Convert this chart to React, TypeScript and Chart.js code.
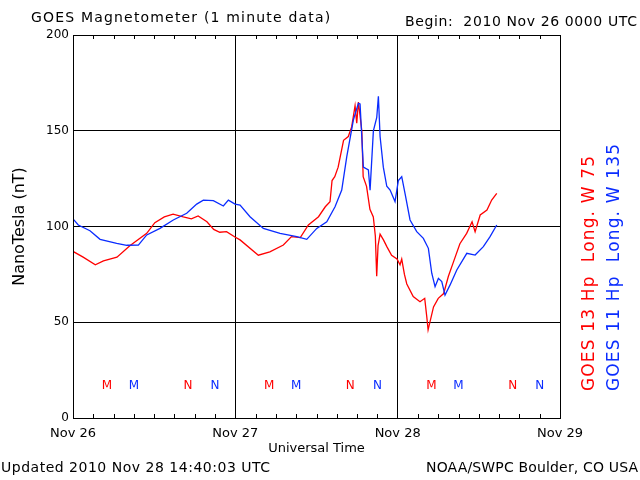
import React, { useEffect, useRef } from "react";
import { Chart, registerables } from "chart.js";

Chart.register(...registerables);

// Hours since 2010 Nov 26 00:00 UTC
const dayLabels = ["Nov 26", "Nov 27", "Nov 28", "Nov 29"];
const yTickValues = [0, 50, 100, 150, 200];

const redHours = [0, 1.5, 3.3, 4.5, 6.5, 8.4, 10.9, 12.1, 13.5, 14.8, 16.3, 17.5, 18.5, 19.8, 20.8, 21.7, 22.7, 24.0, 24.7, 27.4, 29.1, 31.1, 32.3, 33.6, 34.8, 36.3, 37.3, 38.0, 38.3, 38.7, 39.2, 40.0, 40.7, 41.2, 41.7, 41.95, 42.2, 42.7, 42.9, 43.4, 43.9, 44.4, 44.7, 44.9, 45.1, 45.4, 45.9, 46.4, 47.1, 47.9, 48.35, 48.6, 49.0, 49.35, 50.3, 51.3, 52.0, 52.3, 52.5, 53.3, 54.0, 54.8, 55.5, 56.2, 57.2, 58.2, 59.0, 59.45, 60.2, 61.2, 61.9, 62.65];
const redValues = [87, 84, 80, 82, 84, 90, 96.4, 102, 105, 106.4, 105, 104, 105.5, 102.5, 98.5, 97, 97.3, 94.4, 93, 85, 86.8, 90.3, 94.7, 94.2, 100.8, 105.1, 110.3, 113, 124, 126, 131, 145, 147, 152, 163, 154, 165, 150, 126, 121, 109, 105, 95, 74, 90, 96, 93, 89.5, 85, 83, 80, 83, 75, 70, 63.4, 60.7, 62.5, 53, 46, 58, 62.5, 65, 74, 81, 91, 96.4, 102.5, 97.3, 106, 108.6, 113.8, 117.3];

const blueHours = [0, 0.78, 2.51, 4.0, 6.46, 7.94, 9.66, 10.9, 12.86, 14.83, 16.81, 18.29, 19.27, 20.75, 22.23, 22.97, 23.96, 24.7, 26.17, 28.14, 30.61, 33.08, 34.56, 36.04, 37.52, 38.74, 39.73, 40.47, 41.45, 42.19, 42.44, 42.93, 43.67, 43.92, 44.41, 44.91, 45.15, 45.4, 45.88, 46.39, 46.88, 47.61, 48.1, 48.6, 49.1, 49.83, 50.82, 51.8, 52.54, 53.04, 53.53, 54.02, 54.52, 55.0, 55.75, 56.74, 58.22, 59.45, 60.67, 61.66, 62.65];
const blueValues = [104, 100.8, 97.8, 93.3, 91.2, 90.2, 90.3, 95.6, 99, 103.4, 106.9, 111.7, 113.8, 113.5, 110.7, 113.8, 111.7, 111.2, 105.1, 99, 96.4, 94.7, 93.3, 99, 102.5, 110.3, 119, 136.4, 155.6, 164.3, 164, 131, 129.5, 119, 150, 157, 168, 147, 131, 121, 119, 113, 124, 126, 117, 103.4, 97.3, 93.8, 88.6, 75.6, 68.6, 72.9, 71.2, 64.2, 69.5, 77.3, 86, 85.1, 89.5, 94.7, 100.8];

// Local midnight (M) / noon (N) markers
const redMHours = [5, 29, 53];
const redNHours = [17, 41, 65];
const blueMHours = [9, 33, 57];
const blueNHours = [21, 45, 69];
const markerLevel = 17;

const RED = "#ff0000";
const BLUE = "#0a2cff";
const FONT = "'DejaVu Sans', sans-serif";

// draw text stretched (via letter spacing) to a target width, starting at x
function fitText(ctx: any, text: string, x: number, y: number, width: number) {
  ctx.letterSpacing = "0px";
  const w = ctx.measureText(text).width;
  const n = Math.max(text.length - 1, 1);
  const sp = (width - w) / n;
  ctx.letterSpacing = `${sp.toFixed(2)}px`;
  ctx.textAlign = "left";
  ctx.fillText(text, x, y);
  ctx.letterSpacing = "0px";
}

const textPlugin = {
  id: "goesText",
  afterDraw(chart: any) {
    const ctx = chart.ctx;
    const area = chart.chartArea;
    const xs = chart.scales.x;
    const ys = chart.scales.y;
    ctx.save();
    // box border
    ctx.strokeStyle = "#000";
    ctx.lineWidth = 1;
    ctx.strokeRect(Math.round(area.left) + 0.5, Math.round(area.top) + 0.5, Math.round(area.right - area.left), Math.round(area.bottom - area.top));
    // inward minor ticks every 3 hours on top and bottom
    ctx.beginPath();
    for (let h = 3; h < 72; h += 3) {
      if (h % 24 === 0) continue;
      const px = Math.round(xs.getPixelForValue(h)) + 0.5;
      ctx.moveTo(px, area.top);
      ctx.lineTo(px, area.top + 4);
      ctx.moveTo(px, area.bottom);
      ctx.lineTo(px, area.bottom - 4);
    }
    ctx.stroke();

    ctx.fillStyle = "#000";
    ctx.textBaseline = "middle";
    ctx.font = `14px ${FONT}`;
    fitText(ctx, "GOES Magnetometer (1 minute data)", 31, 18, 299);
    fitText(ctx, "Begin:  2010 Nov 26 0000 UTC", 405, 22, 232);
    fitText(ctx, "Updated 2010 Nov 28 14:40:03 UTC", 1, 468, 269);
    fitText(ctx, "NOAA/SWPC Boulder, CO USA", 426, 468, 212);
    ctx.textAlign = "center";
    ctx.font = `13px ${FONT}`;
    ctx.fillText("Universal Time", (area.left + area.right) / 2, 449);

    // y title
    ctx.save();
    ctx.translate(20, (area.top + area.bottom) / 2);
    ctx.rotate(-Math.PI / 2);
    ctx.font = `16px ${FONT}`;
    ctx.textAlign = "center";
    ctx.fillText("NanoTesla (nT)", 0, 0);
    ctx.restore();

    // right legends
    ctx.font = `17px ${FONT}`;
    ctx.save();
    ctx.translate(590, 391);
    ctx.rotate(-Math.PI / 2);
    ctx.fillStyle = RED;
    fitText(ctx, "GOES 13 Hp  Long. W 75", 0, 0, 235);
    ctx.restore();
    ctx.save();
    ctx.translate(615, 391);
    ctx.rotate(-Math.PI / 2);
    ctx.fillStyle = BLUE;
    fitText(ctx, "GOES 11 Hp  Long. W 135", 0, 0, 247);
    ctx.restore();

    // M / N markers
    ctx.font = `12px ${FONT}`;
    ctx.textAlign = "center";
    const py = ys.getPixelForValue(markerLevel);
    const draw = (hours: number[], letter: string, color: string) => {
      ctx.fillStyle = color;
      hours.forEach((h) => ctx.fillText(letter, xs.getPixelForValue(h), py));
    };
    draw(redMHours, "M", RED);
    draw(blueMHours, "M", BLUE);
    draw(redNHours, "N", RED);
    draw(blueNHours, "N", BLUE);
    ctx.restore();
  },
};

export default function App() {
  const ref = useRef<HTMLCanvasElement | null>(null);
  useEffect(() => {
    document.body.style.margin = "0";
    const red = redHours.map((h, i) => ({ x: h, y: redValues[i] }));
    const blue = blueHours.map((h, i) => ({ x: h, y: blueValues[i] }));
    const chart = new Chart(ref.current as HTMLCanvasElement, {
      type: "line",
      data: {
        datasets: [
          { label: "GOES 11", data: blue, borderColor: BLUE, borderWidth: 1.3, pointRadius: 0, tension: 0, fill: false },
          { label: "GOES 13", data: red, borderColor: RED, borderWidth: 1.3, pointRadius: 0, tension: 0, fill: false },
        ],
      },
      options: {
        animation: false,
        responsive: false,
        devicePixelRatio: 1,
        layout: { padding: { top: 35, right: 80, left: 0, bottom: 0 } },
        plugins: { legend: { display: false }, title: { display: false }, tooltip: { enabled: false } },
        scales: {
          x: {
            type: "linear",
            min: 0,
            max: 72,
            afterFit: (s: any) => { s.height = 62; },
            afterBuildTicks: (s: any) => { s.ticks = [0, 24, 48, 72].map((v) => ({ value: v })); },
            ticks: {
              autoSkip: false,
              maxRotation: 0,
              padding: 8,
              color: "#000",
              font: { family: FONT, size: 13 },
              callback: (v: any) => dayLabels[Math.round(Number(v) / 24)] ?? "",
            },
            grid: {
              drawTicks: false,
              lineWidth: 1,
              color: (c: any) => (c.tick && (c.tick.value === 24 || c.tick.value === 48) ? "#000" : "rgba(0,0,0,0)"),
            },
            border: { display: false },
          },
          y: {
            min: 0,
            max: 200,
            afterFit: (s: any) => { s.width = 73; },
            afterBuildTicks: (s: any) => { s.ticks = yTickValues.map((v) => ({ value: v })); },
            ticks: {
              padding: 4,
              color: "#000",
              font: { family: FONT, size: 12 },
            },
            grid: {
              drawTicks: false,
              lineWidth: 1,
              color: (c: any) => (c.tick && c.tick.value > 0 && c.tick.value < 200 ? "#000" : "rgba(0,0,0,0)"),
            },
            border: { display: false },
          },
        },
      },
      plugins: [textPlugin],
    });
    return () => chart.destroy();
  }, []);
  return (
    <div style={{ position: "fixed", left: 0, top: 0, width: 640, height: 480, background: "#fff" }}>
      <canvas ref={ref} width={640} height={480} style={{ display: "block" }} />
    </div>
  );
}
